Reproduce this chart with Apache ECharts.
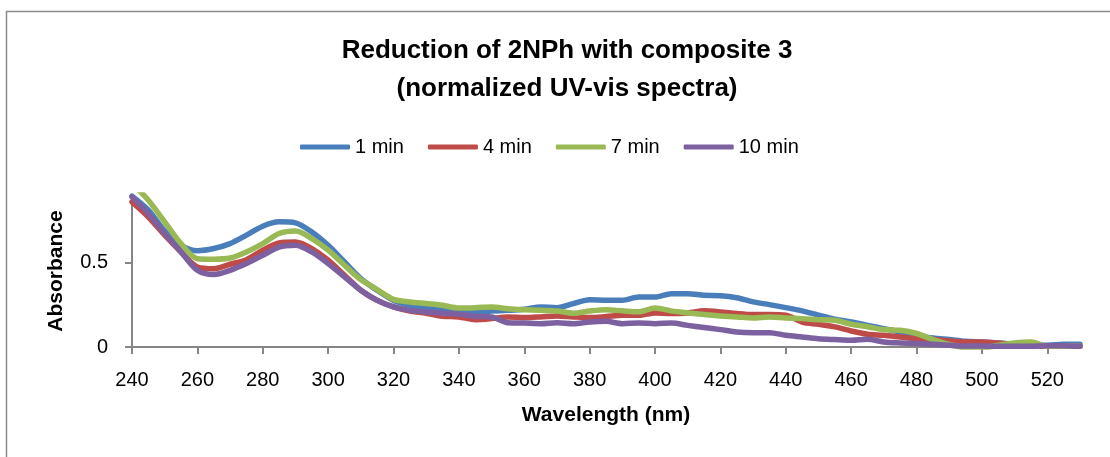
<!DOCTYPE html>
<html>
<head>
<meta charset="utf-8">
<script src="https://cdn.jsdelivr.net/npm/echarts@6/dist/echarts.min.js"></script>
<style>html,body{margin:0;padding:0;background:#fff}#c{width:1110px;height:457px}</style>
</head>
<body>
<div id="c"></div>
<script>
const wavelengths = [240,245,250,255,260,265,270,275,280,285,290,295,300,305,310,315,320,325,330,335,340,345,350,355,360,365,370,375,380,385,390,395,400,405,410,415,420,425,430,435,440,445,450,455,460,465,470,475,480,485,490,495,500,505,510,515,520,525,530];
const seriesNames = ['1 min','4 min','7 min','10 min'];
const min1 = [0.893,0.81,0.687,0.602,0.57,0.583,0.612,0.662,0.715,0.741,0.735,0.681,0.602,
  0.503,0.405,0.336,0.276,0.247,0.233,0.221,0.211,0.207,0.213,0.217,0.223,0.237,0.233,0.257,0.28,0.277,0.277,0.296,0.296,
  0.316,0.316,0.306,0.304,0.292,0.267,0.251,0.233,0.214,0.188,0.164,0.148,0.128,0.109,0.089,0.069,0.053,0.044,0.034,0.03,
  0.024,0.016,0.014,0.01,0.016,0.016];
const min4 = [0.859,0.77,0.662,0.563,0.474,0.464,0.49,0.517,0.573,0.616,0.622,0.583,0.514,
  0.425,0.336,0.276,0.237,0.213,0.2,0.182,0.178,0.162,0.168,0.178,0.174,0.178,0.184,0.178,0.174,0.18,0.188,0.188,0.202,
  0.198,0.202,0.214,0.208,0.198,0.192,0.192,0.188,0.148,0.134,0.119,0.095,0.075,0.069,0.059,0.049,0.044,0.036,0.03,0.03,
  0.024,0.016,0.01,0.004,0.004,0.004];
const min7 = [0.97,0.869,0.741,0.612,0.523,0.52,0.527,0.563,0.612,0.672,0.687,0.642,0.573,
  0.484,0.399,0.34,0.282,0.267,0.257,0.247,0.231,0.233,0.237,0.227,0.221,0.217,0.213,0.2,0.213,0.221,0.214,0.208,0.231,
  0.214,0.202,0.192,0.184,0.178,0.172,0.178,0.172,0.168,0.162,0.158,0.135,0.12,0.103,0.099,0.08,0.044,0.016,-0.004,-0.004,
  0.01,0.024,0.03,0.004,0.004,0.004];
const min10 = [0.889,0.79,0.672,0.563,0.454,0.429,0.454,0.494,0.543,0.592,0.602,0.563,0.494,
  0.415,0.336,0.276,0.237,0.217,0.207,0.2,0.194,0.182,0.178,0.144,0.142,0.138,0.144,0.138,0.148,0.152,0.138,0.142,0.138,
  0.142,0.128,0.115,0.103,0.089,0.085,0.085,0.069,0.059,0.049,0.044,0.04,0.046,0.03,0.024,0.02,0.016,0.01,0.006,0.006,
  0.004,0.004,0.004,0.008,0.008,0.004];
const xTicks = [240,260,280,300,320,340,360,380,400,420,440,460,480,500,520];
const yTicks = [0,0.5];

const colors = ['#4A7EBB','#BE4B48','#98B954','#7D60A0'];
const allData = [min1,min4,min7,min10];
const FONT = 'Liberation Sans';
const axisGray = '#868686';

const chart = echarts.init(document.getElementById('c'), null, {renderer:'canvas'});
chart.setOption({
  animation:false,
  backgroundColor:'#fff',
  textStyle:{fontFamily:FONT},
  graphic:[
    {type:'rect', z:-10, shape:{x:6.5,y:11.5,width:1200,height:500}, style:{fill:'none',stroke:'#8a8a8a',lineWidth:1.5}},
    {type:'text', x:567, y:51, style:{text:'Reduction of 2NPh with composite 3', font:'bold 26px "Liberation Sans"', fill:'#000', textAlign:'center', textVerticalAlign:'middle'}},
    {type:'text', x:567, y:89, style:{text:'(normalized UV-vis spectra)', font:'bold 26px "Liberation Sans"', fill:'#000', textAlign:'center', textVerticalAlign:'middle'}}
  ],
  legend:{
    left:295, top:132, itemWidth:50, itemHeight:5, itemGap:24, icon:'roundRect',
    textStyle:{fontSize:20, color:'#000', fontFamily:FONT},
    data:seriesNames
  },
  grid:{left:132, right:30, top:195, bottom:110, containLabel:false},
  xAxis:{
    type:'value', min:240, max:530, interval:20,
    name:'Wavelength (nm)', nameLocation:'middle', nameGap:58,
    nameTextStyle:{fontSize:21, fontWeight:'bold', color:'#000', fontFamily:FONT},
    axisLine:{show:true, lineStyle:{color:axisGray, width:2}},
    axisTick:{show:true, length:7, lineStyle:{color:axisGray, width:2}, customValues:xTicks},
    axisLabel:{fontSize:20, color:'#000', margin:23, customValues:xTicks, fontFamily:FONT},
    splitLine:{show:false}
  },
  yAxis:{
    type:'value', min:0, max:0.9, interval:0.5,
    name:'Absorbance', nameLocation:'middle', nameGap:65,
    nameTextStyle:{fontSize:21, fontWeight:'bold', color:'#000', fontFamily:FONT},
    axisLine:{show:true, lineStyle:{color:axisGray, width:2}},
    axisTick:{show:true, length:7, lineStyle:{color:axisGray, width:2}, customValues:yTicks},
    axisLabel:{fontSize:20, color:'#000', margin:24, customValues:yTicks, fontFamily:FONT},
    splitLine:{show:false}
  },
  series: seriesNames.map((n,i)=>({
    name:n, type:'line', showSymbol:false, symbol:'none', smooth:0.3, clip:true,
    color:colors[i],
    lineStyle:{width:5.5, color:colors[i], cap:'round', join:'round'},
    data: wavelengths.map((w,j)=>[w, allData[i][j]])
  }))
});
</script>
</body>
</html>
